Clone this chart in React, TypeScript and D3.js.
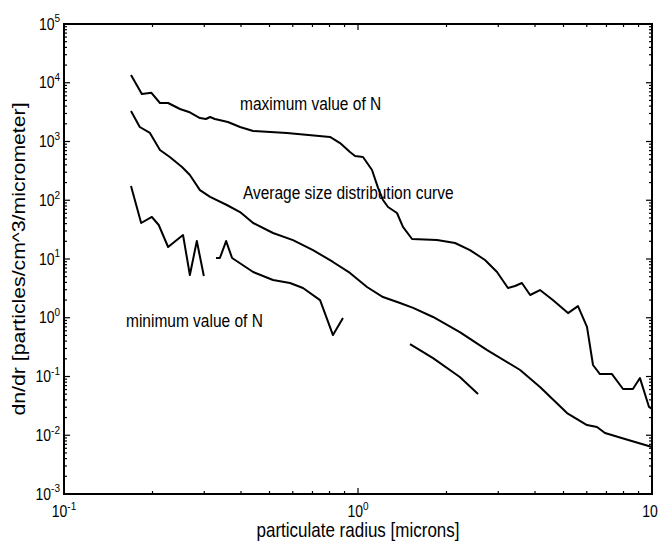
import React from "react";
import * as d3 from "d3";

// ---- data ----
const maxX = [0.169, 0.184, 0.198, 0.212, 0.226, 0.248, 0.266, 0.29, 0.304, 0.314, 0.326, 0.361, 0.397, 0.44, 0.573, 0.803, 0.869, 0.939, 0.977, 1.04, 1.116, 1.17, 1.216, 1.265, 1.357, 1.422, 1.527, 1.857, 2.138, 2.404, 2.704, 2.971, 3.236, 3.42, 3.61, 3.85, 4.16, 4.6, 5.18, 5.6, 6.01, 6.3, 6.65, 7.31, 7.97, 8.61, 9.1, 9.77, 10];
const maxY = [13550, 6440, 6770, 4520, 4520, 3575, 3180, 2510, 2415, 2610, 2415, 2147, 1766, 1510, 1397, 1195, 942, 662, 566, 545, 327, 162, 101, 76.8, 60.7, 35.1, 21.9, 21.0, 18.7, 14.2, 9.6, 6.0, 3.21, 3.47, 3.9, 2.44, 2.96, 2.0, 1.2, 1.58, 0.70, 0.157, 0.11, 0.11, 0.0612, 0.0612, 0.094, 0.0303, 0.028];

const avgX = [0.169, 0.181, 0.196, 0.212, 0.229, 0.252, 0.268, 0.29, 0.314, 0.358, 0.397, 0.44, 0.514, 0.601, 0.703, 0.822, 0.939, 1.073, 1.216, 1.39, 1.54, 1.8, 2.22, 2.75, 3.56, 4.16, 5.14, 6.01, 6.5, 6.92, 8.09, 10];
const avgY = [3300, 1766, 1397, 716, 545, 368, 269, 149, 114, 83, 63, 41, 27.7, 21, 14.2, 8.9, 5.8, 3.34, 2.25, 1.78, 1.47, 1.03, 0.571, 0.282, 0.129, 0.0662, 0.0239, 0.0149, 0.0138, 0.0109, 0.00863, 0.0063];

// null marks a gap in the minimum curve
const minX = [0.169, 0.183, 0.199, 0.21, 0.226, 0.254, 0.268, 0.283, 0.299, null, 0.329, 0.339, 0.356, 0.373, 0.44, 0.514, 0.587, 0.65, 0.743, 0.822, 0.889, null, 1.503, 1.8, 2.22, 2.56];
const minY = [175, 41, 51.9, 37.9, 16, 25.6, 5.35, 20.2, 5.14, null, 10.4, 10.4, 20.2, 10.4, 6.0, 4.39, 3.9, 3.21, 2.0, 0.508, 0.99, null, 0.357, 0.206, 0.098, 0.0504];

const xTickVals = [0.1, 1, 10];
const xTickBase = ["10", "10", "10"];
const xTickExp = ["-1", "0", ""];
const yTickExps = [-3, -2, -1, 0, 1, 2, 3, 4, 5];

const annoText = ["maximum value of N", "Average size distribution curve", "minimum value of N"];
const annoX = [0.397, 0.406, 0.1625];
const annoY = [3440, 103, 0.697];

const xTitle = "particulate radius [microns]";
const yTitle = "dn/dr [particles/cm^3/micrometer]";

export default function App() {
  const W = 659, H = 543;
  const L = 64, R = 652, T = 24, B = 494;
  const x = d3.scaleLog().domain([0.1, 10]).range([L, R]);
  const y = d3.scaleLog().domain([1e-3, 1e5]).range([B, T]);
  const font = "'Liberation Sans', Arial, Helvetica, sans-serif";
  const sY = 1.18; // reference text is vertically stretched

  const line = d3
    .line<[number | null, number | null]>()
    .defined((d) => d[0] != null && d[1] != null)
    .x((d) => x(d[0] as number))
    .y((d) => y(d[1] as number));

  const series = [
    maxX.map((v, i) => [v, maxY[i]] as [number | null, number | null]),
    avgX.map((v, i) => [v, avgY[i]] as [number | null, number | null]),
    minX.map((v, i) => [v, minY[i]] as [number | null, number | null]),
  ];

  const xMinor: number[] = [];
  [0.1, 1].forEach((d) => {
    for (let k = 2; k <= 9; k++) xMinor.push(d * k);
  });
  const yMinor: number[] = [];
  yTickExps.slice(0, -1).forEach((e) => {
    for (let k = 2; k <= 9; k++) yMinor.push(k * Math.pow(10, e));
  });

  const major = 6, minor = 3;

  return (
    <svg width={W} height={H} style={{ position: "absolute", left: 0, top: 0, background: "#fff" }}>
      <rect x={0} y={0} width={W} height={H} fill="#fff" />
      <g stroke="#000" strokeWidth={1.2}>
        {xTickVals.map((v, i) => (
          <g key={"xm" + i}>
            <line x1={x(v)} x2={x(v)} y1={B} y2={B - major} />
            <line x1={x(v)} x2={x(v)} y1={T} y2={T + major} />
          </g>
        ))}
        {xMinor.map((v, i) => (
          <g key={"xn" + i}>
            <line x1={x(v)} x2={x(v)} y1={B} y2={B - minor} />
            <line x1={x(v)} x2={x(v)} y1={T} y2={T + minor} />
          </g>
        ))}
        {yTickExps.map((e, i) => (
          <g key={"ym" + i}>
            <line x1={L} x2={L + major} y1={y(Math.pow(10, e))} y2={y(Math.pow(10, e))} />
            <line x1={R} x2={R - major} y1={y(Math.pow(10, e))} y2={y(Math.pow(10, e))} />
          </g>
        ))}
        {yMinor.map((v, i) => (
          <g key={"yn" + i}>
            <line x1={L} x2={L + minor} y1={y(v)} y2={y(v)} />
            <line x1={R} x2={R - minor} y1={y(v)} y2={y(v)} />
          </g>
        ))}
      </g>
      <rect x={L} y={T} width={R - L} height={B - T} fill="none" stroke="#000" strokeWidth={2} />
      {series.map((s, i) => (
        <path key={"s" + i} d={line(s) || ""} fill="none" stroke="#000" strokeWidth={2} strokeLinejoin="round" />
      ))}
      <g fontFamily={font} fill="#000">
        {yTickExps.map((e, i) => (
          <text
            key={"yl" + i}
            transform={`translate(${L - 4},${y(Math.pow(10, e)) + 5.5}) scale(1,${sY})`}
            textAnchor="end"
            fontSize={14}
          >
            10
            <tspan dy={-6} fontSize={10}>{String(e)}</tspan>
          </text>
        ))}
        {xTickVals.map((v, i) => (
          <text
            key={"xl" + i}
            transform={`translate(${x(v) - (xTickExp[i] ? 0 : 2)},${B + 23}) scale(1,${sY})`}
            textAnchor="middle"
            fontSize={14}
          >
            {xTickBase[i]}
            {xTickExp[i] ? <tspan dy={-6} fontSize={10}>{xTickExp[i]}</tspan> : null}
          </text>
        ))}
        <text transform={`translate(${(L + R) / 2},${B + 43}) scale(1,${sY})`} textAnchor="middle" fontSize={17}>
          {xTitle}
        </text>
        <text transform={`translate(25,${(T + B) / 2}) rotate(-90) scale(${sY},1)`} textAnchor="middle" fontSize={18}>
          {yTitle}
        </text>
        {annoText.map((t, i) => (
          <text key={"a" + i} transform={`translate(${x(annoX[i])},${y(annoY[i])}) scale(1,${sY})`} fontSize={15.5}>
            {t}
          </text>
        ))}
      </g>
    </svg>
  );
}
